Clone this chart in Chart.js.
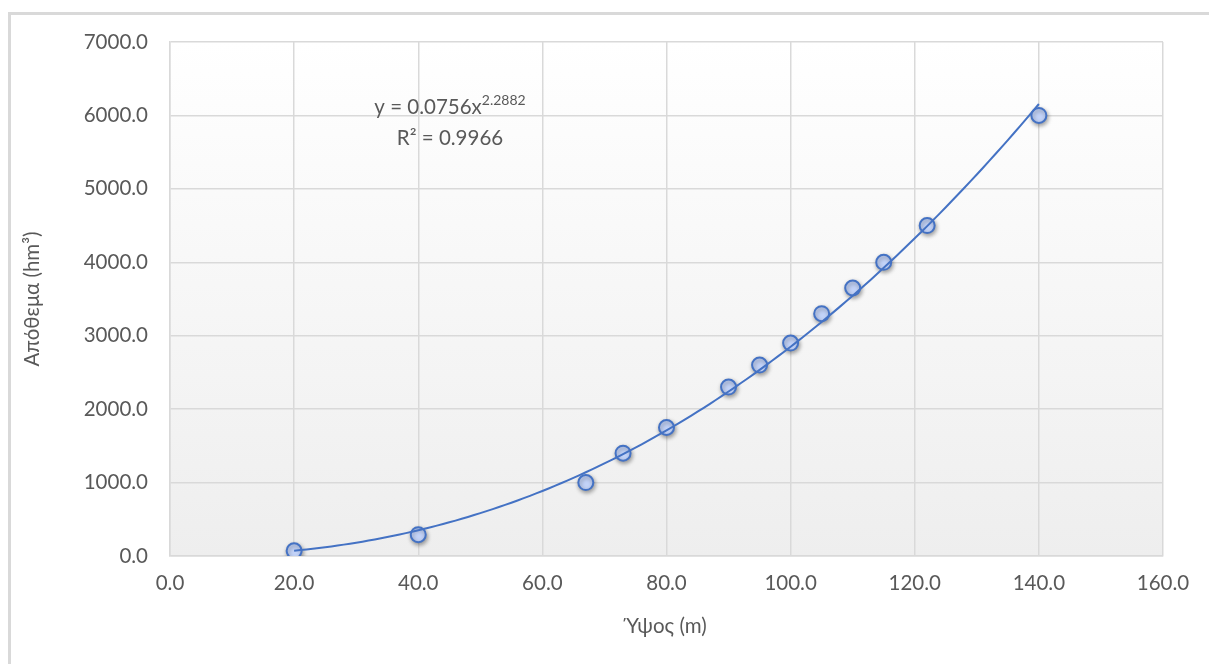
<!DOCTYPE html>
<html>
<head>
<meta charset="utf-8">
<script src="https://cdn.jsdelivr.net/npm/chart.js@4.4.1/dist/chart.umd.min.js"></script>
<style>
    html, body { margin: 0; padding: 0; background: #fff; overflow: hidden; }
    #frame {
        position: absolute; left: 8px; top: 12px; width: 1300px; height: 800px;
        border: 3px solid #d9d9d9; box-sizing: border-box;
    }
    #wrap { position: absolute; left: 0; top: 0; width: 1209px; height: 664px; }
</style>
</head>
<body>
<div id="frame"></div>
<div id="wrap"><canvas id="myChart" width="1209" height="664"></canvas></div>
<script>
// heights (m) and storage (hm3)
const heights = [20, 40, 67, 73, 80, 90, 95, 100, 105, 110, 115, 122, 140];
const storage = [70, 290, 1000, 1400, 1750, 2300, 2600, 2900, 3300, 3650, 4000, 4500, 6000];

// power trendline as printed on the chart
const trendA = 0.0756;
const trendB = 2.2882;
const trendLabel = ['y = 0.0756x', '2.2882', 'R² = 0.9966'];

const xTicks = [0, 20, 40, 60, 80, 100, 120, 140, 160];
const yTicks = [0, 1000, 2000, 3000, 4000, 5000, 6000, 7000];

const FONT = 'Lato';
const FS = 20.5;
const TEXT = '#595959';
const BLUE = '#4472c4';

const points = heights.map((h, i) => ({ x: h, y: storage[i] }));
const trend = [];
for (let h = heights[0]; h <= heights[heights.length - 1]; h += 2) {
    trend.push({ x: h, y: trendA * Math.pow(h, trendB) });
}

const bgPlugin = {
    id: 'plotBg',
    beforeDraw(chart) {
        const { ctx, chartArea: a } = chart;
        const g = ctx.createLinearGradient(0, a.top, 0, a.bottom);
        g.addColorStop(0, '#ffffff');
        g.addColorStop(1, '#eeeeee');
        ctx.save();
        ctx.fillStyle = g;
        ctx.fillRect(a.left, a.top, a.right - a.left, a.bottom - a.top);
        ctx.restore();
    },
    beforeDatasetDraw(chart, args) {
        if (args.index === 1) {
            const ctx = chart.ctx;
            ctx.save();
            ctx.shadowColor = 'rgba(0,0,0,0.35)';
            ctx.shadowBlur = 4;
            ctx.shadowOffsetX = 1;
            ctx.shadowOffsetY = 2;
        }
    },
    afterDatasetDraw(chart, args) {
        if (args.index === 1) chart.ctx.restore();
    },
    afterDraw(chart) {
        const ctx = chart.ctx;
        const cx = 450;
        ctx.save();
        ctx.fillStyle = TEXT;
        ctx.textBaseline = 'alphabetic';
        ctx.font = FS + 'px ' + FONT;
        const w1 = ctx.measureText(trendLabel[0]).width;
        ctx.font = '14px ' + FONT;
        const w2 = ctx.measureText(trendLabel[1]).width;
        let x0 = cx - (w1 + w2) / 2;
        ctx.font = FS + 'px ' + FONT;
        ctx.textAlign = 'left';
        ctx.fillText(trendLabel[0], x0, 114);
        ctx.font = '14px ' + FONT;
        ctx.fillText(trendLabel[1], x0 + w1, 105);
        ctx.font = FS + 'px ' + FONT;
        ctx.textAlign = 'center';
        ctx.fillText(trendLabel[2], cx, 145);
        ctx.restore();
    }
};

const config = {
    type: 'scatter',
    data: {
        datasets: [
            {
                type: 'line',
                data: trend,
                borderColor: BLUE,
                borderWidth: 2,
                pointRadius: 0,
                tension: 0.3,
                fill: false
            },
            {
                data: points,
                backgroundColor: '#c3d3f8',
                borderColor: BLUE,
                borderWidth: 2,
                pointRadius: 7.5,
                pointHoverRadius: 7.5
            }
        ]
    },
    options: {
        responsive: false,
        animation: false,
        events: [],
        layout: { padding: { left: 0, top: 42, right: 46, bottom: 0 } },
        plugins: {
            legend: { display: false },
            tooltip: { enabled: false }
        },
        scales: {
            x: {
                type: 'linear',
                min: 0, max: 160,
                afterBuildTicks: s => { s.ticks = xTicks.map(v => ({ value: v })); },
                afterFit: s => { s.height = 108; },
                grid: { color: '#d9d9d9', lineWidth: 1.5, drawTicks: false },
                border: { color: '#d9d9d9', width: 1.5 },
                ticks: {
                    color: TEXT, font: { family: FONT, size: FS }, padding: 15,
                    callback: v => v.toFixed(1)
                },
                title: {
                    display: true, text: 'Ύψος (m)', color: TEXT,
                    font: { family: FONT, size: FS }, padding: { top: 4, bottom: 25 }
                }
            },
            y: {
                min: 0, max: 7000,
                afterBuildTicks: s => { s.ticks = yTicks.map(v => ({ value: v })); },
                afterFit: s => { s.width = 170; },
                grid: { color: '#d9d9d9', lineWidth: 1.5, drawTicks: false },
                border: { color: '#d9d9d9', width: 1.5 },
                ticks: {
                    color: TEXT, font: { family: FONT, size: FS }, padding: 22,
                    callback: v => v.toFixed(1)
                },
                title: {
                    display: true, text: 'Απόθεμα (hm³)', color: TEXT,
                    font: { family: FONT, size: FS }, padding: { top: 20 }
                }
            }
        }
    },
    plugins: [bgPlugin]
};

document.fonts.load(FS + 'px ' + FONT).then(() => {
    const ctx = document.getElementById('myChart').getContext('2d');
    new Chart(ctx, config);
});
</script>
</body>
</html>
